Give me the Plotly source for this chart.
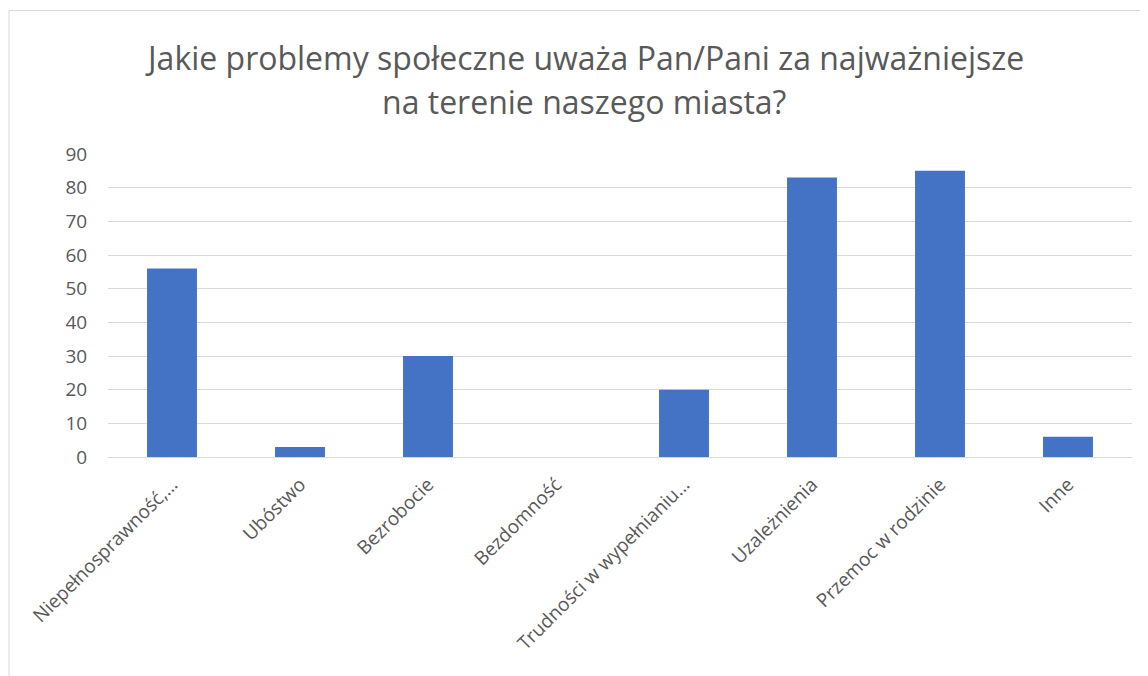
import plotly.graph_objects as go

categories = ["Niepełnosprawność,…", "Ubóstwo", "Bezrobocie", "Bezdomność",
              "Trudności w wypełnianiu…", "Uzależnienia", "Przemoc w rodzinie", "Inne"]
values = [56, 3, 30, 0, 20, 83, 85, 6]
y_ticks = [0, 10, 20, 30, 40, 50, 60, 70, 80, 90]
title_lines = ["Jakie problemy społeczne uważa Pan/Pani za najważniejsze",
               "na terenie naszego miasta?"]

OFF = 8  # page body margin
W, H = 1148 - OFF, 676 - OFF
L, R, T, B = 100, 16, 146, 219
pw, ph = W - L - R, H - T - B

def px_x(x):
    return (x - OFF - L) / pw

def px_y(y):
    return 1 - (y - OFF - T) / ph

fig = go.Figure(go.Bar(
    x=categories, y=values,
    marker=dict(color="#4472C4", line=dict(width=0)),
    width=0.39,
))

font = "Open Sans"
grey = "#595959"

fig.update_layout(
    width=W, height=H,
    margin=dict(l=L, r=R, t=T, b=B),
    paper_bgcolor="white", plot_bgcolor="white",
    showlegend=False,
    font=dict(family=font, color=grey, size=19),
    xaxis=dict(
        type="category", tickangle=-45, showgrid=False,
        showline=False, zeroline=False,
        ticks="outside", ticklen=8, tickcolor="rgba(0,0,0,0)",
        tickfont=dict(size=19, color=grey, family=font),
        range=[-0.5, len(categories) - 0.5],
    ),
    yaxis=dict(
        range=[0, 90], tickvals=y_ticks,
        showgrid=True, gridcolor="#D9D9D9", gridwidth=1,
        zeroline=True, zerolinecolor="#D9D9D9", zerolinewidth=1,
        showline=False,
        ticks="outside", ticklen=16, tickcolor="rgba(0,0,0,0)",
        tickfont=dict(size=19, color=grey, family=font),
    ),
    shapes=[dict(
        type="rect", xref="paper", yref="paper",
        x0=px_x(9), x1=px_x(1170), y0=px_y(700), y1=px_y(10.5),
        line=dict(color="#D9D9D9", width=1), fillcolor="rgba(0,0,0,0)",
        layer="below",
    )],
    annotations=[
        dict(text=title_lines[0], xref="paper", yref="paper",
             x=px_x(584), y=px_y(57), xanchor="center", yanchor="middle",
             showarrow=False, font=dict(size=32, color=grey, family=font)),
        dict(text=title_lines[1], xref="paper", yref="paper",
             x=px_x(584), y=px_y(101), xanchor="center", yanchor="middle",
             showarrow=False, font=dict(size=32, color=grey, family=font)),
    ],
)

fig.write_html("out.html")
